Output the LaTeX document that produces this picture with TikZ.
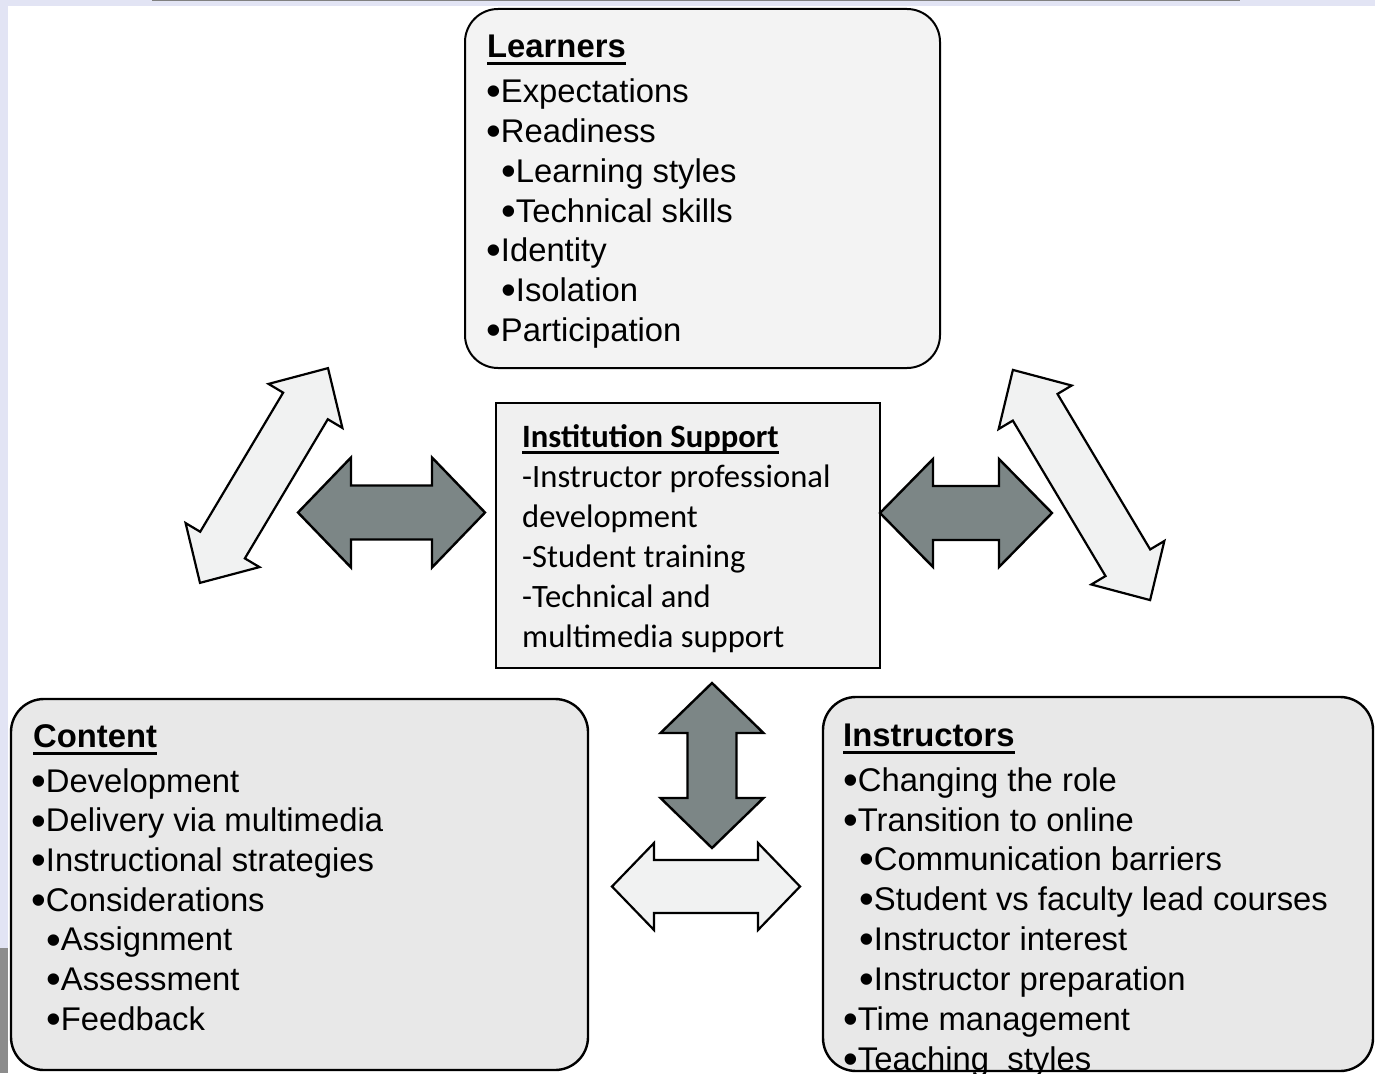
\documentclass[tikz,border=0pt]{standalone}
\usepackage{fontspec}
\setmainfont{Liberation Sans}
\newfontfamily\calib{Carlito}
\definecolor{lav}{HTML}{E2E4F4}
\definecolor{boxlight}{HTML}{F3F3F3}
\definecolor{boxgray}{HTML}{E8E8E8}
\definecolor{boxmid}{HTML}{F0F0F0}
\definecolor{darkarrow}{HTML}{7C8686}
\definecolor{lightarrow}{HTML}{F1F2F2}
\newcommand\myul[2]{\setbox0\hbox{#2}\rlap{\rule[#1]{\wd0}{2.6pt}}\box0}
\newcommand\bul{\raisebox{-3.3pt}{\fontsize{42}{40}\selectfont •}}
\newcommand\blockarrow[8]{%
  \draw[#8, shift={(#1,#2)}, rotate=#3] (-#4,0) -- (-#4+#5,#6) -- (-#4+#5,#7) -- (#4-#5,#7) -- (#4-#5,#6) -- (#4,0)
   -- (#4-#5,-#6) -- (#4-#5,-#7) -- (-#4+#5,-#7) -- (-#4+#5,-#6) -- cycle;}
\tikzset{
  rbox/.style={draw=black, line width=2.4pt, rounded corners=33pt},
  sbox/.style={draw=black, line width=2.6pt, fill=boxmid},
  txt/.style={anchor=base west, inner sep=0pt, font=\fontsize{32.8}{40}\selectfont},
  itxt/.style={anchor=base west, inner sep=0pt, font=\calib\fontsize{32.6}{40}\selectfont},
  darr/.style={draw=black, line width=2.4pt, line join=miter, fill=darkarrow},
  larr/.style={draw=black, line width=2.2pt, line join=miter, fill=lightarrow},
}
\begin{document}
\begin{tikzpicture}[x=1pt, y=-1pt]
\useasboundingbox (0,0) rectangle (1375,1073);
% slide background
\fill[white] (0,0) rectangle (1375,1073);
\fill[lav] (0,0) rectangle (8,1073);
\fill[lav] (0,0) rectangle (1375,6.5);
\fill[gray!90] (0,948) rectangle (8,1073);
\fill[gray] (152,0) rectangle (1240,1.5);

% boxes
\draw[rbox, fill=boxlight, line width=2pt] (465,9) rectangle (940,368);
\node[inner sep=0pt, minimum width=475pt, minimum height=359pt] (learners) at (702.5,188.5) {};
\draw[rbox, fill=boxgray] (11,699) rectangle (588,1070);
\node[inner sep=0pt, minimum width=577pt, minimum height=371pt] (content) at (299.5,884.5) {};
\draw[rbox, fill=boxgray] (823,697) rectangle (1373,1071);
\node[inner sep=0pt, minimum width=550pt, minimum height=374pt] (instructors) at (1098,884) {};
\node[sbox, inner sep=0pt, minimum width=384pt, minimum height=265pt] (inst) at (688,535.5) {};

% block arrows
\blockarrow{391.5}{512.5}{0}{93.5}{53}{55}{27}{darr}
\blockarrow{966}{513}{0}{86}{53}{54}{27}{darr}
\blockarrow{712}{765.5}{90}{82.5}{50}{51.5}{24.5}{darr}
\blockarrow{706}{886.5}{0}{94}{42}{43.5}{26.5}{larr}
\blockarrow{264}{475.5}{59.2}{125}{44}{43}{26}{larr}
\blockarrow{1081.5}{485}{-59.2}{134}{43.5}{42.5}{26}{larr}

% Learners text
\node[txt] (lt) at (487,57) {\bfseries\myul{-8pt}{Learners}};
\node[txt] (l1) at (486,102) {\bul Expectations};
\node[txt] (l2) at (486,142) {\bul Readiness};
\node[txt] (l3) at (501,182) {\bul Learning styles};
\node[txt] (l4) at (501,222) {\bul Technical skills};
\node[txt] (l5) at (486,261) {\bul Identity};
\node[txt] (l6) at (501,301) {\bul Isolation};
\node[txt] (l7) at (486,341) {\bul Participation};

% Institution text
\node[itxt] (it) at (522,447) {\bfseries\myul{-7pt}{Institution Support}};
\node[itxt] (i1) at (522,487) {-Instructor professional};
\node[itxt] (i2) at (522,527) {development};
\node[itxt] (i3) at (522,567) {-Student training};
\node[itxt] (i4) at (522,607) {-Technical and};
\node[itxt] (i5) at (522,647) {multimedia support};

% Content text
\node[txt] (ct) at (33,747) {\bfseries\myul{-8pt}{Content}};
\node[txt] (c1) at (31,792) {\bul Development};
\node[txt] (c2) at (31,831.7) {\bul Delivery via multimedia};
\node[txt] (c3) at (31,871.4) {\bul Instructional strategies};
\node[txt] (c4) at (31,911.1) {\bul Considerations};
\node[txt] (c5) at (46,950.8) {\bul Assignment};
\node[txt] (c6) at (46,990.5) {\bul Assessment};
\node[txt] (c7) at (46,1030.2) {\bul Feedback};

% Instructors text
\node[txt] (nt) at (843,746) {\bfseries\myul{-8pt}{Instructors}};
\node[txt] (n1) at (843,791) {\bul Changing the role};
\node[txt] (n2) at (843,831) {\bul Transition to online};
\node[txt] (n3) at (859,870) {\bul Communication barriers};
\node[txt] (n4) at (859,910) {\bul Student vs faculty lead courses};
\node[txt] (n5) at (859,950) {\bul Instructor interest};
\node[txt] (n6) at (859,990) {\bul Instructor preparation};
\node[txt] (n7) at (843,1030) {\bul Time management};
\node[txt] (n8) at (843,1070) {\bul Teaching~~styles};
\end{tikzpicture}
\end{document}
